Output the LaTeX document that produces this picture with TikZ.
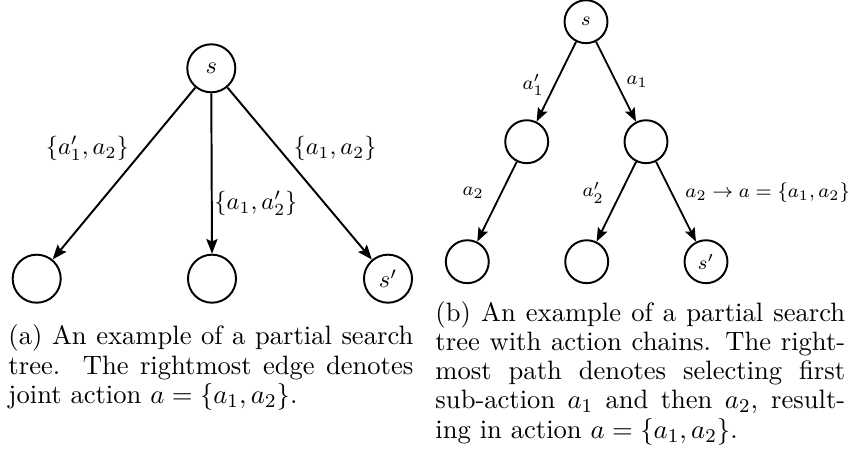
\documentclass[tikz,border=0pt]{standalone}
\usetikzlibrary{arrows.meta}
\begin{document}
\begin{tikzpicture}[x=0.41pt,y=-0.41pt,
  st/.style={circle,draw,line width=0.8pt,minimum size=19.7pt,inner sep=0pt,font=\fontsize{9.6}{11}\selectfont},
  stb/.style={circle,draw,line width=0.8pt,minimum size=17.6pt,inner sep=0pt,font=\fontsize{8.5}{10}\selectfont},
  arr/.style={line width=0.8pt,-{Stealth[length=6pt,width=4.6pt,inset=1pt]}},
  arrb/.style={line width=0.75pt,-{Stealth[length=5.6pt,width=4.3pt,inset=1pt]}},
  lbl/.style={inner sep=0pt,font=\fontsize{9.6}{11}\selectfont},
  lblb/.style={inner sep=0pt,font=\fontsize{8.4}{10}\selectfont},
  captext/.style={anchor=north west,inner sep=0pt,align=left,font=\fontsize{10.9}{12}\selectfont}]
\useasboundingbox (0,0) rectangle (850,464);
% ---- left tree
\node[st] (s) at (211.3,68.3) {$s$};
\node[st] (c1) at (36.7,278.7) {};
\node[st] (c2) at (212,278.7) {};
\node[st] (c3) at (388,278.7) {$s'$};
\draw[arr] (s) -- (c1);
\draw[arr] (s.south) -- (c2.north);
\draw[arr] (s) -- (c3);
\node[lbl] (l1) at (87.3,148.3) {$\{a_1',a_2\}$};
\node[lbl,anchor=west] (l2) at (214,203.3) {$\{a_1,a_2'\}$};
\node[lbl] (l3) at (335,148.3) {$\{a_1,a_2\}$};
% ---- right tree
\node[stb] (r) at (586,21.7) {$s$};
\node[stb] (m1) at (526.7,141.7) {};
\node[stb] (m2) at (646,141.7) {};
\node[stb] (b1) at (467.3,261.7) {};
\node[stb] (b2) at (586.7,261.7) {};
\node[stb] (b3) at (706,261.7) {$s'$};
\draw[arrb] (r) -- (m1);
\draw[arrb] (r) -- (m2);
\draw[arrb] (m1) -- (b1);
\draw[arrb] (m2) -- (b2);
\draw[arrb] (m2) -- (b3);
\node[lblb] (k1) at (533.3,85) {$a_1'$};
\node[lblb] (k2) at (637.3,81.7) {$a_1$};
\node[lblb] (k3) at (473.3,192.7) {$a_2$};
\node[lblb] (k4) at (593.3,192.7) {$a_2'$};
\node[lblb,anchor=west] (k5) at (685,192.7) {$a_2\rightarrow a=\{a_1,a_2\}$};
% ---- captions
\node[captext] (capa) at (8,324.5) {%
\makebox[166pt][s]{(a) An example of a partial search}\\
\makebox[166pt][s]{tree.\ \ The rightmost edge denotes}\\
joint action $a=\{a_1,a_2\}$.};
\node[captext] (capb) at (435,300.7) {%
\makebox[168pt][s]{(b) An example of a partial search}\\
\makebox[168pt][s]{tree with action chains. The right-}\\
\makebox[168pt][s]{most path denotes selecting first}\\
\makebox[168pt][s]{sub-action $a_1$ and then $a_2$, result-}\\
ing in action $a=\{a_1,a_2\}$.};
\end{tikzpicture}
\end{document}
